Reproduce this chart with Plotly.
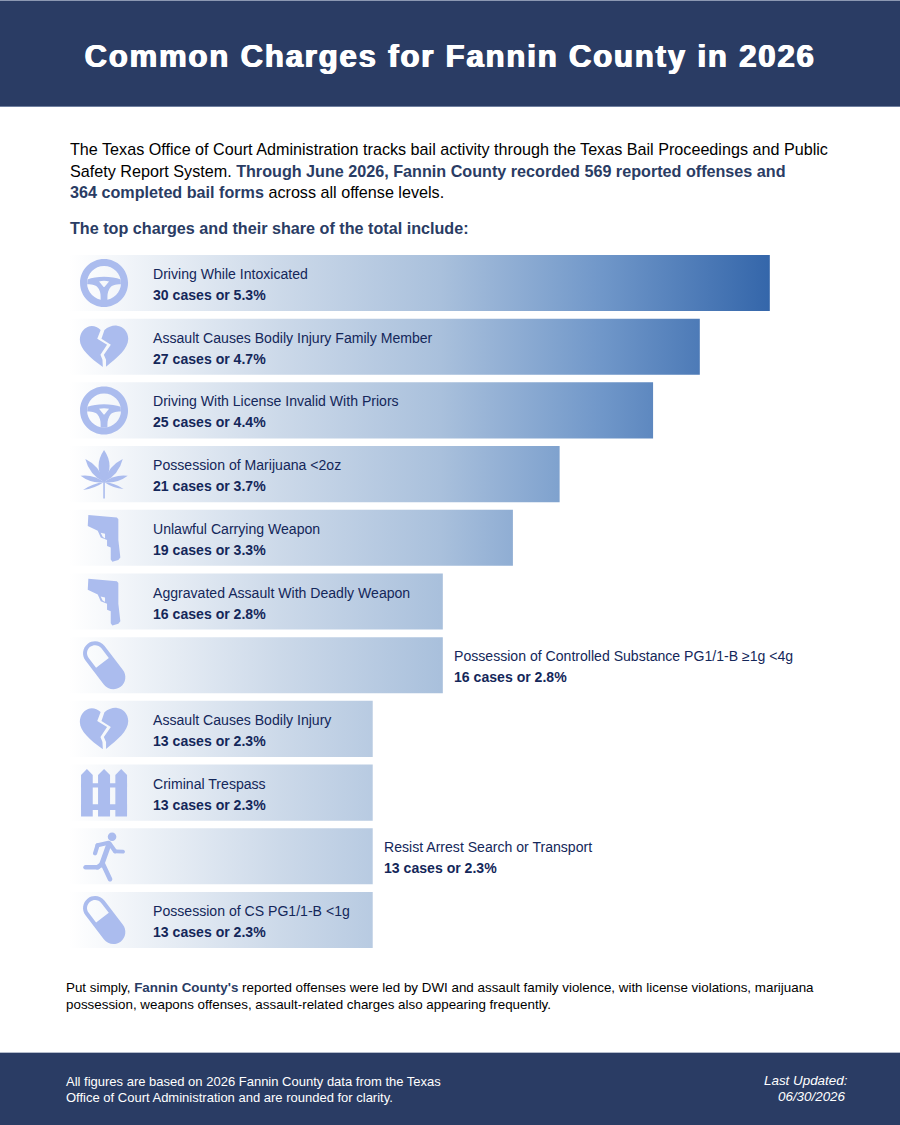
import numpy as np
import plotly.graph_objects as go

# ---------- data ----------
charges = [
    "Driving While Intoxicated",
    "Assault Causes Bodily Injury Family Member",
    "Driving With License Invalid With Priors",
    "Possession of Marijuana <2oz",
    "Unlawful Carrying Weapon",
    "Aggravated Assault With Deadly Weapon",
    "Possession of Controlled Substance PG1/1-B ≥1g <4g",
    "Assault Causes Bodily Injury",
    "Criminal Trespass",
    "Resist Arrest Search or Transport",
    "Possession of CS PG1/1-B <1g",
]
cases = [30, 27, 25, 21, 19, 16, 16, 13, 13, 13, 13]
shares = [5.3, 4.7, 4.4, 3.7, 3.3, 2.8, 2.8, 2.3, 2.3, 2.3, 2.3]
icons = ["wheel", "heart", "wheel", "leaf", "gun", "gun", "pill", "heart", "fence", "runner", "pill"]
labels_outside = [
    "Possession of Controlled Substance PG1/1-B ≥1g <4g",
    "Resist Arrest Search or Transport",
]

TITLE = "Common Charges for Fannin County in 2026"
NAVY = "#2A3C64"
INK = "#14275A"
ICON = "#ABBCEE"
W, H = 900, 1125
SANS = "Liberation Sans"
BAR_HALF = 0.44

GRAD = [[0, "#FFFFFF"], [.30, "#CCD9E9"], [.53, "#A9C0DC"], [.76, "#7097C9"], [1, "#3466AA"]]


# ---------- icon geometry (pixels around an anchor, y pointing down) ----------
def P(pts, close=True):
    s = "M" + " L".join("%.2f,%.2f" % (x, -y) for x, y in pts)
    return s + (" Z" if close else "")


def C(cmds):
    """cmds: list of ('M',x,y) ('L',x,y) ('C',x1,y1,x2,y2,x,y) ('Q',...) ('Z',)"""
    out = []
    for c in cmds:
        vals = list(c[1:])
        for i in range(1, len(vals), 2):
            vals[i] = -vals[i]
        pairs = [f"{vals[i]:.2f},{vals[i+1]:.2f}" for i in range(0, len(vals), 2)]
        out.append(c[0] + " ".join(pairs))
    return " ".join(out)


def circle(cx, cy, r):
    k = .5523 * r
    return C([("M", cx + r, cy), ("C", cx + r, cy + k, cx + k, cy + r, cx, cy + r),
              ("C", cx - k, cy + r, cx - r, cy + k, cx - r, cy),
              ("C", cx - r, cy - k, cx - k, cy - r, cx, cy - r),
              ("C", cx + k, cy - r, cx + r, cy - k, cx + r, cy), ("Z",)])


def capsule(p1, p2, r, flat_end=False):
    p1, p2 = np.array(p1, float), np.array(p2, float)
    d = (p2 - p1) / np.linalg.norm(p2 - p1)
    n = np.array([d[1], -d[0]])
    k = .5523 * r
    a, b = p1 + n * r, p2 + n * r
    cmds = [("M", *a), ("L", *b)]
    c, e = p2 - n * r, p1 - n * r
    if flat_end:
        cmds.append(("L", *c))
    else:
        tip = p2 + d * r
        cmds.append(("C", *(b + d * k), *(tip + n * k), *tip))
        cmds.append(("C", *(tip - n * k), *(c + d * k), *c))
    cmds.append(("L", *e))
    tip = p1 - d * r
    cmds.append(("C", *(e - d * k), *(tip - n * k), *tip))
    cmds.append(("C", *(tip + n * k), *(a - d * k), *a))
    cmds.append(("Z",))
    return C(cmds)


def leaflet(tx, ty, w, bx=0, by=8):
    mx, my = (tx + bx) / 2, (ty + by) / 2
    dx, dy = tx - bx, ty - by
    L = np.hypot(dx, dy)
    nx, ny = -dy / L * w, dx / L * w
    return C([("M", bx, by), ("Q", mx + nx, my + ny, tx, ty), ("Q", mx - nx, my - ny, bx, by), ("Z",)])


def fence_icon():
    out = []
    for x0, x1 in [(-23, -11.3), (-6, 6), (11.3, 23)]:
        xm = (x0 + x1) / 2
        out.append(P([(x0, 24), (x0, -17.5), (xm, -23.7), (x1, -17.5), (x1, 24)]))
    for y0, y1 in [(-9.3, -5), (11.7, 17.4)]:
        out.append(P([(-23, y0), (23, y0), (23, y1), (-23, y1)]))
    return out


ICON_PATHS = {
    "wheel": [" ".join([
        circle(0, 0, 24), circle(0, 0, 17),
    ]), C([("M", -16.6, -3.6), ("C", -8, -7, 8, -7, 16.6, -3.6), ("L", 16.9, 1.2),
           ("C", 11, 1.2, 7.5, 2, 5.2, 6), ("C", 3.2, 9.5, 3.4, 13, 3.4, 17), ("L", -3.4, 17),
           ("C", -3.4, 13, -3.2, 9.5, -5.2, 6), ("C", -7.5, 2, -11, 1.2, -16.9, 1.2), ("Z",),
           ("M", -5, -1.6), ("C", -2, -2.4, 2, -2.4, 5, -1.6), ("L", 0.4, 4), ("L", -0.4, 4), ("Z",)])],
    "heart": [
        C([("M", -3.4, -16.8), ("C", -7, -20.5, -12, -21.5, -16, -20), ("C", -21, -18, -24.2, -13, -24.2, -7),
           ("C", -24.2, 2, -14, 11, -1.2, 20.3), ("L", -1.6, 13), ("L", -3.6, 8), ("L", 3, -2), ("L", -6.8, -8), ("Z",)]),
        C([("M", 0.4, -16.6), ("C", 4, -20, 9, -21.5, 13, -21), ("C", 19, -20.5, 24.2, -15, 24.2, -8),
           ("C", 24.2, 2, 13, 11, 2, 20), ("L", 2, 13), ("L", -0.2, 8), ("L", 6.8, -2), ("L", -2.6, -8), ("Z",)]),
    ],
    "leaf": [
        leaflet(0, -24, 11), leaflet(18.7, -15, 7), leaflet(-18.7, -15, 7),
        leaflet(23.7, 1.7, 5), leaflet(-23.5, 1.7, 5), leaflet(19.5, 15, 2.8), leaflet(-21, 16, 2.8),
        P([(-.8, 6), (.8, 6), (.8, 24.5), (-.8, 24.5)]),
    ],
    "gun": [P([(-15.7, -22.7), (12.8, -20.3), (14.3, -18.6), (14.3, 2.3), (16.3, 19.7), (14.3, 22.3), (8.3, 24),
               (6.7, 21.7), (6.7, 9.7), (3, 8.3), (3, 2.3), (-3.3, -.3), (-6.3, -7), (-16.3, -11.7)])
            + " " + P([(-3.4, -5), (1, -4), (1, .6), (-1.4, -1)])],
    "pill": [capsule((-9, -12), (9.3, 12.1), 12) + " " + capsule((-9, -12), (-1.6, -2.3), 8, flat_end=True)],
    "fence": fence_icon(),
    "runner": [
        circle(8, -19.6, 4.3),
        capsule((5, -12.5), (-2.5, 8.5), 2.6),
        capsule((4.5, -13.5), (-6.5, -11), 2.1), capsule((-6.5, -11), (-9, -3), 2.1),
        capsule((6, -12), (11, -5), 2.1), capsule((11, -5), (19, -4.6), 1.9),
        capsule((-2.5, 8), (-6.5, 11), 2.3), capsule((-6.5, 11), (-18.5, 11), 2.3),
        capsule((-1.5, 7), (6, 23), 2.3),
    ],
}

# ---------- figure ----------
rows = list(range(len(charges)))
fig = go.Figure()
# the bars themselves: values through the axes, carrying the chart's data
fig.add_trace(go.Bar(y=rows, x=cases, orientation="h", width=2 * BAR_HALF,
                     marker=dict(color="rgba(0,0,0,0)", line_width=0), customdata=charges,
                     hovertemplate="%{customdata}: %{x}<extra></extra>", showlegend=False))
# one gradient shared by all bars, positioned absolutely on the value axis
poly_x, poly_y = [], []
for r, v in zip(rows, cases):
    poly_x += [0, v, v, 0, 0, None]
    poly_y += [r - BAR_HALF, r - BAR_HALF, r + BAR_HALF, r + BAR_HALF, r - BAR_HALF, None]
fig.add_trace(go.Scatter(x=poly_x, y=poly_y, mode="none", fill="toself", hoverinfo="skip", showlegend=False,
                         fillgradient=dict(type="horizontal", colorscale=GRAD, start=0, stop=max(cases))))

shapes = [
    dict(type="rect", xref="paper", yref="paper", x0=0, x1=1, y0=1 - 106.5 / H, y1=1,
         fillcolor=NAVY, line_width=0, layer="below"),
    dict(type="rect", xref="paper", yref="paper", x0=0, x1=1, y0=0, y1=1 - 1052.5 / H,
         fillcolor=NAVY, line_width=0, layer="below"),
    dict(type="rect", xref="paper", yref="paper", x0=0, x1=1, y0=1 - 1 / H, y1=1,
         fillcolor="#8C98B2", line_width=0, layer="below"),
    dict(type="rect", xref="paper", yref="paper", x0=0, x1=1, y0=1 - 107 / H, y1=1 - 106 / H,
         fillcolor="#6F7F9F", line_width=0, layer="below"),
    dict(type="rect", xref="paper", yref="paper", x0=0, x1=1, y0=1 - 1053 / H, y1=1 - 1052 / H,
         fillcolor="#B4BCCC", line_width=0, layer="below"),
]
for r, icon in zip(rows, icons):
    for path in ICON_PATHS[icon]:
        shapes.append(dict(type="path", path=path, xref="x", yref="y", xsizemode="pixel", ysizemode="pixel",
                           xanchor=1.5, yanchor=r, fillcolor=ICON, line_width=0, fillrule="evenodd"))

ann = []


def txt(x, y, text, size, color="#000000", anchor="left", **font):
    ann.append(dict(xref="paper", yref="paper", x=x / W, y=1 - y / H, text=text, showarrow=False,
                    xanchor=anchor, yanchor="middle", align=anchor, borderpad=0, borderwidth=0,
                    font=dict(family=SANS, size=size, color=color, **font)))


def hl(s):
    return f'<b><span style="color:{NAVY}">{s}</span></b>'


txt(450, 57, TITLE, 31, "#FFFFFF", "center", weight=700, shadow="0.7px 0 0 #fff, -0.7px 0 0 #fff")
txt(70, 149, "The Texas Office of Court Administration tracks bail activity through the Texas Bail Proceedings and Public", 16.17)
txt(70, 171, "Safety Report System. " + hl("Through June 2026, Fannin County recorded 569 reported offenses and"), 16.17)
txt(70, 192, hl("364 completed bail forms") + " across all offense levels.", 16.17)
txt(70, 228, hl("The top charges and their share of the total include:"), 16.17)

for r, name, n, sh in zip(rows, charges, cases, shares):
    out = name in labels_outside
    for line, dy in ((name, -9), (f"<b>{n} cases or {sh}%</b>", 12)):
        ann.append(dict(xref="x", yref="y", x=n if out else 0, y=r, xshift=11 if out else 84, yshift=-dy,
                        text=line.replace("<4g", "&lt;4g").replace("<2oz", "&lt;2oz").replace("<1g", "&lt;1g"),
                        showarrow=False, xanchor="left", yanchor="middle", align="left",
                        borderpad=0, borderwidth=0, font=dict(family=SANS, size=14.08, color=INK)))

txt(66, 987, "Put simply, " + hl("Fannin County's") + " reported offenses were led by DWI and assault family violence, with license violations, marijuana", 13.38)
txt(66, 1004, "possession, weapons offenses, assault-related charges also appearing frequently.", 13.38)
txt(66, 1081, "All figures are based on 2026 Fannin County data from the Texas", 13, "#FFFFFF")
txt(66, 1097, "Office of Court Administration and are rounded for clarity.", 13, "#FFFFFF")
txt(848, 1080.5, "Last Updated:", 13.4, "#FFFFFF", "right", style="italic")
txt(846, 1096.5, "06/30/2026", 13.4, "#FFFFFF", "right", style="italic")

fig.update_layout(
    width=W, height=H, margin=dict(l=0, r=0, t=0, b=0), paper_bgcolor="white", plot_bgcolor="rgba(0,0,0,0)",
    showlegend=False, shapes=shapes, annotations=ann,
    xaxis=dict(domain=[69 / W, 769.9 / W], range=[0, 30], visible=False, fixedrange=True),
    yaxis=dict(domain=[1 - 951.85 / H, 1 - 251.15 / H], range=[10.5, -0.5], visible=False, fixedrange=True),
    hovermode=False,
)

post = """
document.body.style.margin='0';
document.querySelectorAll('text').forEach(function(t){
  if(t.textContent.indexOf('Common Charges')===0){t.style.letterSpacing='1.87px';}
});
"""
fig.write_html("out.html", post_script=post, config={"displayModeBar": False})
